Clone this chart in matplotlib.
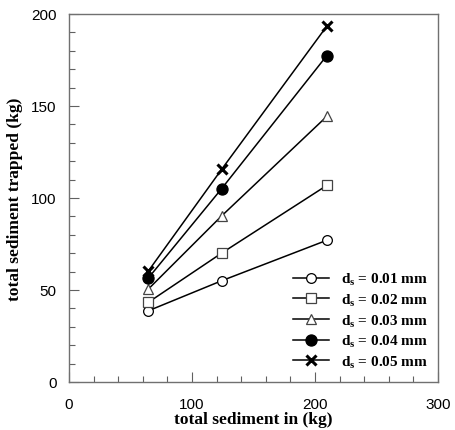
import matplotlib
matplotlib.use("Agg")
import matplotlib.pyplot as plt
from matplotlib.ticker import MultipleLocator

plt.rcParams['mathtext.fontset'] = 'custom'
plt.rcParams['mathtext.bf'] = 'Liberation Serif:bold'
plt.rcParams['mathtext.rm'] = 'Liberation Serif:bold'

sediment_in = [64.5, 124, 209.5]
d001 = [38.7, 55, 77]
d002 = [43.3, 70, 106.8]
d003 = [50.5, 90.2, 144.3]
d004 = [56.5, 105, 177.3]
d005 = [60.3, 115.5, 193.3]
labels = ['0.01', '0.02', '0.03', '0.04', '0.05']

fig = plt.figure(figsize=(4.55, 4.31), dpi=100)
ax = fig.add_axes([69/455, 48/431, 369/455, 368/431])

series = [d001, d002, d003, d004, d005]
styles = [
    dict(marker='o', mfc='white', mec='black', ms=7, mew=0.9),
    dict(marker='s', mfc='white', mec='#444444', ms=7, mew=0.9),
    dict(marker='^', mfc='white', mec='#444444', ms=7, mew=0.9),
    dict(marker='o', mfc='black', mec='black', ms=8, mew=0.9),
    dict(marker='x', mfc='black', mec='black', ms=7, mew=2.2),
]
for ys, lab, st in zip(series, labels, styles):
    ax.plot(sediment_in, ys, color='black', lw=1.1,
            label=r'$\mathbf{d_s}$ = ' + lab + ' mm', **st)

ax.set_xlim(0, 300)
ax.set_ylim(0, 200)
ax.xaxis.set_major_locator(MultipleLocator(100))
ax.xaxis.set_minor_locator(MultipleLocator(20))
ax.yaxis.set_major_locator(MultipleLocator(50))
ax.yaxis.set_minor_locator(MultipleLocator(10))
ax.tick_params(which='both', direction='in', color='#606060', top=False, right=False,
               labelsize=11, labelcolor='black')
ax.tick_params(which='major', length=7, width=0.8)
ax.tick_params(axis='x', which='major', pad=11)
ax.tick_params(axis='y', which='major', pad=9)
ax.tick_params(which='minor', length=4, width=0.8)
for lbl in ax.get_xticklabels() + ax.get_yticklabels():
    lbl.set_family('Liberation Sans')
for sp in ax.spines.values():
    sp.set_color('#707070')
    sp.set_linewidth(1.0)

ax.set_xlabel('total sediment in (kg)', fontsize=12.5, fontweight='bold',
              family='Liberation Serif', labelpad=0)
ax.set_ylabel('total sediment trapped (kg)', fontsize=12.5, fontweight='bold',
              family='Liberation Serif', labelpad=6)

leg = ax.legend(loc='lower right', bbox_to_anchor=(1.0 - 4/369, 6/368), frameon=False,
                prop={'family': 'Liberation Serif', 'weight': 'bold', 'size': 11},
                handlelength=2.4, handletextpad=0.75, labelspacing=0.3,
                borderaxespad=0.0)

fig.savefig('out.png', dpi=100)
